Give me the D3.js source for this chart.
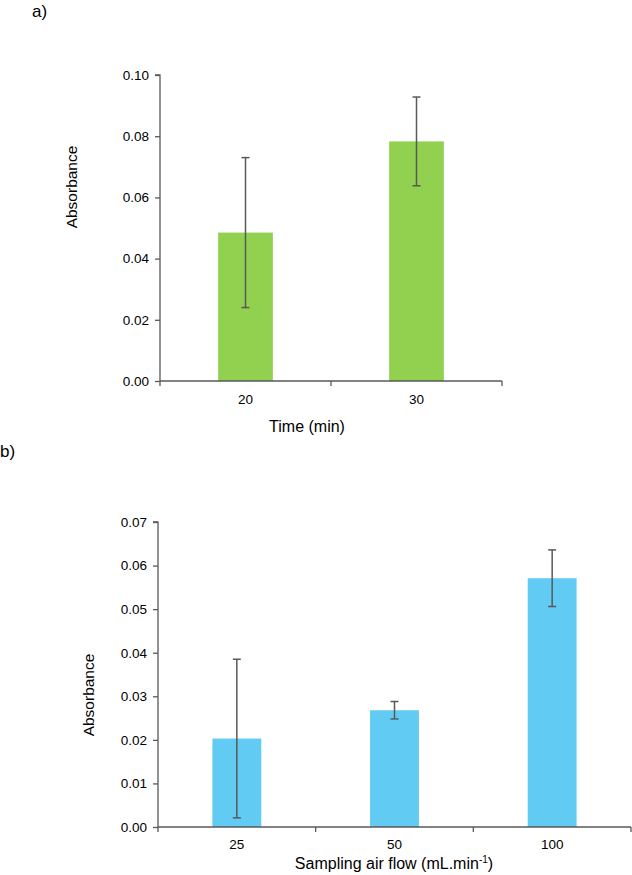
<!DOCTYPE html>
<html>
<head>
<meta charset="utf-8">
<script src="https://cdn.jsdelivr.net/npm/d3@7"></script>
<style>
  body { margin: 0; background: #fff; }
  svg text { font-family: "Liberation Sans", Arial, sans-serif; fill: #000; }
</style>
</head>
<body>
<div id="chart"></div>
<script>
// panel a) data
const timeCategories = ["20", "30"];
const timeValues = [0.0485, 0.0783];
const timeErrors = [0.0245, 0.0145];
const timeTicks = [0, 0.02, 0.04, 0.06, 0.08, 0.10];

// panel b) data
const flowCategories = ["25", "50", "100"];
const flowValues = [0.0203, 0.0268, 0.0571];
const flowErrors = [0.0182, 0.0020, 0.0065];
const flowTicks = [0, 0.01, 0.02, 0.03, 0.04, 0.05, 0.06, 0.07];

const width = 632;
const height = 875;
const axisColour = "#595959";

const svg = d3.select("#chart")
  .append("svg")
    .attr("width", width)
    .attr("height", height);

const drawPanel = (opts) => {
  const { cats, vals, errs, ticks, yMax, left, right, top, bottom, colour, barFrac, xPad } = opts;

  const xScale = d3.scaleBand()
    .domain(cats)
    .range([left, right])
    .padding(0);

  const yScale = d3.scaleLinear()
    .domain([0, yMax])
    .range([bottom, top]);

  const g = svg.append("g");

  // bars
  const barW = xScale.bandwidth() * barFrac;
  g.selectAll(".bar")
    .data(cats)
    .join("rect")
      .attr("class", "bar")
      .attr("x", d => xScale(d) + (xScale.bandwidth() - barW) / 2)
      .attr("y", (d, i) => yScale(vals[i]))
      .attr("width", barW)
      .attr("height", (d, i) => bottom - yScale(vals[i]))
      .attr("fill", colour);

  // y axis
  const yAxis = d3.axisLeft(yScale)
    .tickValues(ticks)
    .tickFormat(d3.format(".2f"))
    .tickSize(5)
    .tickPadding(6);

  const yg = g.append("g")
    .attr("transform", `translate(${left}, 0)`)
    .call(yAxis);
  yg.select(".domain").attr("stroke", axisColour).attr("stroke-width", 1.3)
    .attr("d", `M-5,${top}H0V${bottom}`);
  yg.selectAll(".tick line").attr("stroke", axisColour).attr("stroke-width", 1.3);
  yg.selectAll(".tick text").attr("font-size", 13.5).attr("fill", "#000");

  // x axis: labels at band centres, ticks at band boundaries
  const xAxis = d3.axisBottom(xScale).tickSize(0).tickPadding(xPad);
  const xg = g.append("g")
    .attr("transform", `translate(0, ${bottom})`)
    .call(xAxis);
  xg.select(".domain").attr("stroke", axisColour).attr("stroke-width", 1.3)
    .attr("d", `M${left},0H${right}`);
  xg.selectAll(".tick text").attr("font-size", 13.5).attr("fill", "#000");

  const bounds = cats.map(c => xScale(c)).concat([right]);
  g.selectAll(".xtick")
    .data(bounds)
    .join("line")
      .attr("class", "xtick")
      .attr("x1", d => d).attr("x2", d => d)
      .attr("y1", bottom).attr("y2", bottom + 5)
      .attr("stroke", axisColour)
      .attr("stroke-width", 1.3);

  // error bars
  const eb = g.selectAll(".err")
    .data(cats)
    .join("g")
      .attr("class", "err")
      .attr("stroke", axisColour)
      .attr("stroke-width", 1.5);
  const cx = d => xScale(d) + xScale.bandwidth() / 2;
  eb.append("line")
    .attr("x1", cx).attr("x2", cx)
    .attr("y1", (d, i) => yScale(vals[i] + errs[i]))
    .attr("y2", (d, i) => yScale(vals[i] - errs[i]));
  eb.append("line")
    .attr("x1", d => cx(d) - 4).attr("x2", d => cx(d) + 4)
    .attr("y1", (d, i) => yScale(vals[i] + errs[i]))
    .attr("y2", (d, i) => yScale(vals[i] + errs[i]));
  eb.append("line")
    .attr("x1", d => cx(d) - 4).attr("x2", d => cx(d) + 4)
    .attr("y1", (d, i) => yScale(vals[i] - errs[i]))
    .attr("y2", (d, i) => yScale(vals[i] - errs[i]));
};

drawPanel({
  cats: timeCategories, vals: timeValues, errs: timeErrors, ticks: timeTicks,
  yMax: 0.10, left: 160, right: 502, top: 75, bottom: 381,
  colour: "#92D050", barFrac: 0.32, xPad: 13
});

drawPanel({
  cats: flowCategories, vals: flowValues, errs: flowErrors, ticks: flowTicks,
  yMax: 0.07, left: 158, right: 631, top: 522, bottom: 827,
  colour: "#61CBF4", barFrac: 0.31, xPad: 12
});

// panel letters
svg.append("text").text("a)")
  .attr("x", 32).attr("y", 17)
  .attr("font-size", 17);
svg.append("text").text("b)")
  .attr("x", 0).attr("y", 457)
  .attr("font-size", 17);

// axis titles
svg.append("text").text("Absorbance")
  .attr("transform", "translate(77, 187) rotate(-90)")
  .attr("text-anchor", "middle")
  .attr("font-size", 15.5);
svg.append("text").text("Time (min)")
  .attr("x", 307).attr("y", 432)
  .attr("text-anchor", "middle")
  .attr("font-size", 16);

svg.append("text").text("Absorbance")
  .attr("transform", "translate(94, 695) rotate(-90)")
  .attr("text-anchor", "middle")
  .attr("font-size", 15.5);
const flowTitle = svg.append("text")
  .attr("x", 394).attr("y", 869)
  .attr("text-anchor", "middle")
  .attr("font-size", 16);
flowTitle.append("tspan").text("Sampling air flow (mL.min");
flowTitle.append("tspan").text("-1").attr("font-size", 10).attr("dy", -6);
flowTitle.append("tspan").text(")").attr("dy", 6);
</script>
</body>
</html>
